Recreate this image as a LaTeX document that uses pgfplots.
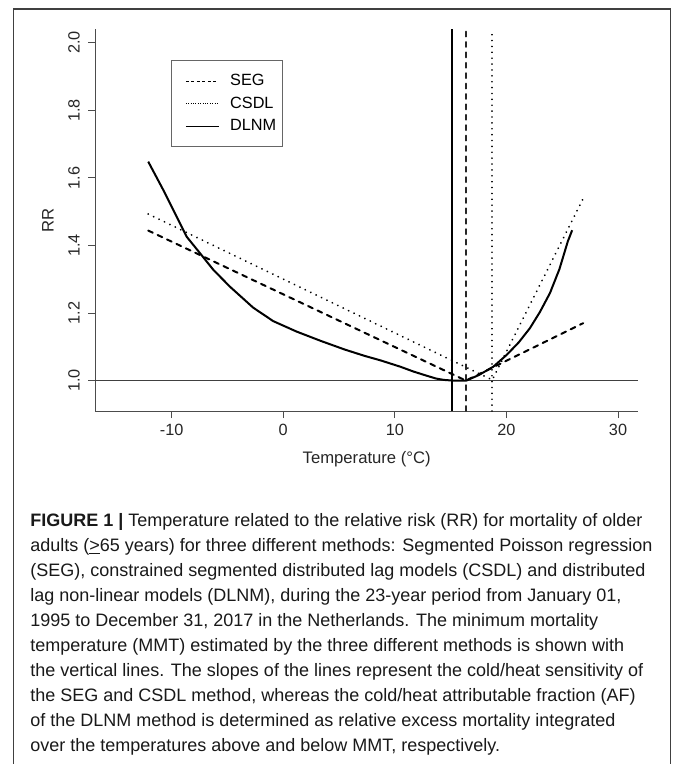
\documentclass[border=0pt]{standalone}
\usepackage{fontspec}
\setmainfont{Liberation Sans}
\usepackage{pgfplots}
\pgfplotsset{compat=1.18}
\pgfplotstableread{
T RR
-12.10 1.648
-10.75 1.564
-9.55 1.485
-8.66 1.426
-7.46 1.377
-6.27 1.328
-4.78 1.278
-2.70 1.216
-0.90 1.176
1.20 1.145
3.40 1.117
5.50 1.092
7.30 1.073
8.70 1.060
10.50 1.041
11.65 1.027
12.80 1.015
13.70 1.006
14.40 1.002
15.20 1.000
16.40 1.000
17.50 1.016
18.82 1.041
20.02 1.076
21.10 1.113
22.10 1.155
23.00 1.203
23.90 1.259
24.75 1.330
25.50 1.412
25.89 1.445
}\dlnm
\pgfplotstableread{
T RR
-12.10 1.444
16.37 1.000
26.88 1.170
}\seg
\pgfplotstableread{
T RR
-12.10 1.493
18.73 1.002
26.88 1.539
}\csdl
\begin{document}
\begin{tikzpicture}
\useasboundingbox (0,0) rectangle (504pt,-573pt);
\draw[line width=0.9pt, black!75] (9.98pt,-600pt) -- (9.98pt,-6.75pt) -- (503pt,-6.75pt) -- (503pt,-600pt);
\begin{axis}[
  at={(71.25pt,-308.25pt)}, anchor=south west,
  scale only axis, width=407.5pt, height=286.5pt,
  xmin=-16.87, xmax=31.82, ymin=0.910, ymax=2.0405,
  axis x line*=bottom, axis y line*=left,
  axis line style={black!70, line width=0.75pt},
  tick align=outside, major tick length=5.25pt,
  tick style={black!70, line width=0.75pt},
  xtick={-10,0,10,20,30}, xticklabels={-10,0,10,20,30},
  ytick={1,1.2,1.4,1.6,1.8,2}, yticklabels={1.0,1.2,1.4,1.6,1.8,2.0},
  yticklabel style={rotate=90, anchor=south, inner sep=0pt},
  xticklabel style={anchor=north, inner sep=0pt},
  xticklabel shift=4.75pt, yticklabel shift=6pt,
  ticklabel style={font=\fontsize{12.2}{14}\selectfont, text=black!85},
  legend style={at={(0.1406,0.9188)}, anchor=north west, draw=black!60, line width=0.75pt, fill=white,
    font=\fontsize{12.2}{14}\selectfont, inner xsep=2.5pt, inner ysep=10pt, row sep=5.8pt,
    nodes={inner ysep=0.5pt, inner xsep=2pt},
    /tikz/every odd column/.append style={column sep=6.4pt}},
  legend cell align=left,
  legend image code/.code={\path (-7.7pt,0pt); \draw[#1] (0pt,0pt) -- (24.5pt,0pt);},
]
\addlegendimage{black, line width=0.6pt, dash pattern=on 2.3pt off 1.8pt}
\addlegendentry{SEG}
\addlegendimage{black, line width=0.6pt, dash pattern=on 0.6pt off 1.2pt}
\addlegendentry{CSDL}
\addlegendimage{black, line width=0.6pt}
\addlegendentry{DLNM}
\addplot[black!75, line width=0.75pt, forget plot] coordinates {(-16.87,1) (31.82,1)};
\addplot[black, line width=1.5pt, forget plot] coordinates {(15.14,0.91) (15.14,2.0405)};
\addplot[black!85, line width=1.3pt, line cap=round, dash pattern=on 3.8pt off 4pt, forget plot] coordinates {(16.37,0.91) (16.37,2.0405)};
\addplot[black, line width=1.3pt, line cap=round, dash pattern=on 0.01pt off 4.4pt, forget plot] coordinates {(18.73,0.91) (18.73,2.0405)};
\addplot[black, line width=1.5pt, line join=round, forget plot] table[x=T, y=RR] {\dlnm};
\addplot[black, line width=1.5pt, line cap=round, dash pattern=on 3.8pt off 4pt, forget plot] table[x=T, y=RR] {\seg};
\addplot[black, line width=1.5pt, line cap=round, dash pattern=on 0.01pt off 4.5pt, forget plot] table[x=T, y=RR] {\csdl};
\end{axis}
\node[anchor=base, inner sep=0pt, font=\fontsize{12.5}{14}\selectfont, text=black!85] at (275pt,-347.5pt) {Temperature (°C)};
\node[anchor=base, rotate=90, inner sep=0pt, font=\fontsize{12.5}{14}\selectfont, text=black!85] at (40.2pt,-165pt) {RR};
\begin{scope}[every node/.style={anchor=base west, inner sep=0pt, font=\fontsize{13.5}{16}\selectfont, text=black!90}]
\node at (22.5pt,-394.5pt) {\textbf{FIGURE 1 |} Temperature related to the relative risk (RR) for mortality of older};
\node at (22.5pt,-413.3pt) {adults (\underline{>}65 years) for three different methods: Segmented Poisson regression};
\node at (22.5pt,-432.2pt) {(SEG), constrained segmented distributed lag models (CSDL) and distributed};
\node at (22.5pt,-451.0pt) {lag non-linear models (DLNM), during the 23-year period from January 01,};
\node at (22.5pt,-469.8pt) {1995 to December 31, 2017 in the Netherlands. The minimum mortality};
\node at (22.5pt,-488.6pt) {temperature (MMT) estimated by the three different methods is shown with};
\node at (22.5pt,-507.5pt) {the vertical lines. The slopes of the lines represent the cold/heat sensitivity of};
\node at (22.5pt,-526.3pt) {the SEG and CSDL method, whereas the cold/heat attributable fraction (AF)};
\node at (22.5pt,-545.1pt) {of the DLNM method is determined as relative excess mortality integrated};
\node at (22.5pt,-563.9pt) {over the temperatures above and below MMT, respectively.};
\end{scope}
\end{tikzpicture}
\end{document}
